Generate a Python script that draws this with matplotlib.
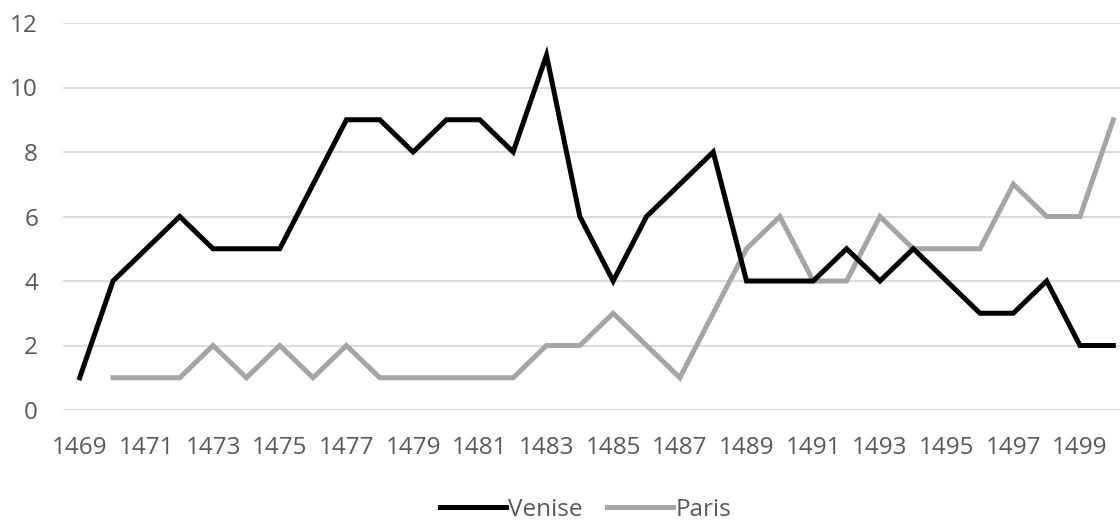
import matplotlib
matplotlib.use("Agg")
import matplotlib.pyplot as plt

# ----------------------------------------------------------------------------
# DATA
# ----------------------------------------------------------------------------
years_venise = list(range(1469, 1501))
venise = [1, 4, 5, 6, 5, 5, 5, 7, 9, 9, 8, 9, 9, 8, 11, 6,
          4, 6, 7, 8, 4, 4, 4, 5, 4, 5, 4, 3, 3, 4, 2, 2]

years_paris = list(range(1470, 1501))
paris = [1, 1, 1, 2, 1, 2, 1, 2, 1, 1, 1, 1, 1, 2, 2,
         3, 2, 1, 3, 5, 6, 4, 4, 6, 5, 5, 5, 7, 6, 6, 9]

xticks = list(range(1469, 1501, 2))
yticks = [0, 2, 4, 6, 8, 10, 12]

# ----------------------------------------------------------------------------
# PLOT
# ----------------------------------------------------------------------------
plt.rcParams["font.family"] = ["Open Sans", "DejaVu Sans"]
TXT = "#595959"
FS = 17.5

fig = plt.figure(figsize=(11.2, 5.2), dpi=100)
ax = fig.add_axes([63 / 1120, 1 - 410 / 520, 1 - 63 / 1120, (410 - 23) / 520])

ax.plot(years_venise, venise, color="black", lw=3.6, label="Venise",
        solid_joinstyle="miter", zorder=3)
ax.plot(years_paris, paris, color="#A5A5A5", lw=3.6, label="Paris",
        solid_joinstyle="miter", zorder=2)

ax.set_xlim(1468.5, 1500.2)
ax.set_ylim(0, 12)
ax.set_xticks(xticks)
ax.set_yticks(yticks)
ax.tick_params(axis="both", length=0, labelsize=FS, colors=TXT)
ax.tick_params(axis="x", pad=19)
ax.tick_params(axis="y", pad=18)
ax.grid(True, axis="y", color="#D9D9D9", lw=1.3)
ax.set_axisbelow(True)
for s in ax.spines.values():
    s.set_visible(False)

leg = fig.legend(loc="center", bbox_to_anchor=(0.523, 1 - 510 / 520), ncol=2,
                 frameon=False, fontsize=FS, handlelength=2.7,
                 handletextpad=0.1, columnspacing=1.0)
for t in leg.get_texts():
    t.set_color(TXT)

fig.savefig("out.png", dpi=100)
